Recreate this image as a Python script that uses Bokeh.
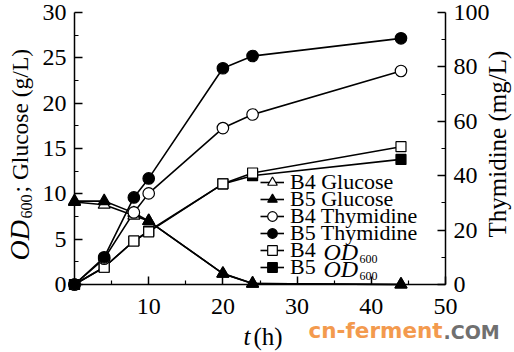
import math
from bokeh.plotting import figure
from bokeh.models import Range1d, LinearAxis, FixedTicker, Legend, LegendItem, Label
from bokeh.embed import file_html
from bokeh.resources import INLINE

# ---------------- data ----------------
time_h = [0, 4, 8, 10, 20, 24, 44]
b4_glucose = [9.1, 8.8, 7.6, 7.0, 1.2, 0.1, 0.0]
b5_glucose = [9.2, 9.2, 7.9, 7.0, 1.2, 0.1, 0.0]
b4_thymidine = [0.0, 9.5, 26.5, 33.5, 57.5, 62.5, 78.5]
b5_thymidine = [0.0, 10.0, 32.0, 39.0, 79.5, 84.0, 90.5]
b4_od600 = [0.0, 1.9, 4.8, 5.8, 11.1, 12.3, 15.2]
b5_od600 = [0.0, 1.9, 4.8, 5.9, 11.1, 12.0, 13.8]

left_ticks = [0, 5, 10, 15, 20, 25, 30]
left_minor = [2.5, 7.5, 12.5, 17.5, 22.5, 27.5]
bottom_ticks = [10, 20, 30, 40, 50]
bottom_minor = [5, 15, 25, 35, 45]
right_ticks = [0, 20, 40, 60, 80, 100]
right_minor = [10, 30, 50, 70, 90]

legend_labels = ["B4 Glucose", "B5 Glucose", "B4 Thymidine", "B5 Thymidine", "B4", "B5"]

SERIF = "Liberation Serif"

# canvas geometry (pixels): plot area edges
W, H = 514, 352
FL, FR, FT, FB = 74, 445, 12, 284
X0, X1 = 0, 50
Y0, Y1 = 0, 30
R0, R1 = 0, 100
xs = (FR - FL) / (X1 - X0)
ys = (FB - FT) / (Y1 - Y0)
rs = (FB - FT) / (R1 - R0)

p = figure(width=W, height=H, output_backend="svg", toolbar_location=None,
           x_range=Range1d(X0 - FL / xs, X1 + (W - FR) / xs),
           y_range=Range1d(Y0 - (H - FB) / ys, Y1 + FT / ys),
           min_border=0, min_border_left=0, min_border_right=0,
           min_border_top=0, min_border_bottom=0)
p.extra_y_ranges = {"thy": Range1d(R0 - (H - FB) / rs, R1 + FT / rs)}
p.outline_line_color = None
p.background_fill_color = "white"
p.border_fill_color = "white"
p.xgrid.visible = False
p.ygrid.visible = False

xa = p.xaxis[0]
ya = p.yaxis[0]
xa.ticker = FixedTicker(ticks=bottom_ticks, minor_ticks=bottom_minor)
ya.ticker = FixedTicker(ticks=left_ticks, minor_ticks=left_minor)
xa.fixed_location = Y0
xa.bounds = (X0, X1)
ya.fixed_location = X0
ya.bounds = (Y0, Y1)
right = LinearAxis(y_range_name="thy", ticker=FixedTicker(ticks=right_ticks, minor_ticks=right_minor),
                   fixed_location=X1, bounds=(R0, R1))
p.add_layout(right, "right")

for ax in [xa, ya, right]:
    ax.axis_line_width = 1.5
    ax.axis_line_color = "black"
    ax.major_tick_in = 8
    ax.major_tick_out = 0
    ax.minor_tick_in = 4
    ax.minor_tick_out = 0
    ax.major_tick_line_width = 1.5
    ax.minor_tick_line_width = 1.2
    ax.major_tick_line_color = "black"
    ax.minor_tick_line_color = "black"
    ax.major_label_text_font = SERIF
    ax.major_label_text_font_size = "24px"
    ax.major_label_text_color = "black"
    ax.major_label_standoff = 8
xa.major_label_standoff = 14

LW = 1.6
MW = 1.2
lines = {}
marks = {}
specs = [
    ("b4g", b4_glucose, "triangle", 12, "white", "default"),
    ("b5g", b5_glucose, "triangle", 12, "black", "default"),
    ("b5o", b5_od600, "square", 10, "black", "default"),
    ("b4o", b4_od600, "square", 10, "white", "default"),
    ("b4t", b4_thymidine, "circle", 11.5, "white", "thy"),
    ("b5t", b5_thymidine, "circle", 11.5, "black", "thy"),
]
for key, yv, mk, sz, fill, rng in specs:
    lines[key] = p.line(time_h, yv, line_color="black", line_width=LW, y_range_name=rng)
for key, yv, mk, sz, fill, rng in specs:
    marks[key] = p.scatter(time_h, yv, marker=mk, size=sz, fill_color=fill,
                           line_color="black", line_width=MW, y_range_name=rng)


def clabel(**kw):
    kw.setdefault("text_color", "black")
    kw.setdefault("text_font", SERIF)
    kw.setdefault("text_baseline", "middle")
    lab = Label(x_units="canvas", y_units="canvas", **kw)
    p.add_layout(lab)
    return lab


order = ["b4g", "b5g", "b4t", "b5t", "b4o", "b5o"]
row0 = 183
row_h = 17
for i, key in enumerate(order):
    rc = row0 + row_h * i
    item = LegendItem(label=legend_labels[i], renderers=[lines[key], marks[key]])
    leg = Legend(items=[item], location=(260, H - (rc + 12)),
                 padding=0, margin=0, spacing=0, border_line_color=None,
                 background_fill_alpha=0, glyph_width=24, glyph_height=24,
                 label_height=17, label_standoff=6,
                 label_text_font=SERIF, label_text_font_size="22px",
                 label_text_color="black")
    p.add_layout(leg)
    if i >= 4:
        clabel(x=323, y=rc, text="OD", text_font_style="italic", text_font_size="24px")
        clabel(x=359, y=rc + 7, text="600", text_font_size="12px")

# left axis title (reads bottom to top)
clabel(x=19, y=260, text="OD", angle=math.pi / 2, text_font_style="italic",
       text_font_size="28px")
clabel(x=26, y=218, text="600", angle=math.pi / 2, text_font_size="16px")
clabel(x=19, y=192, text="; Glucose (g/L)", angle=math.pi / 2, text_font_size="23.5px")
# right axis title
clabel(x=497, y=237, text="Thymidine (mg/L)", angle=math.pi / 2, text_font_size="25px")
# bottom axis title
clabel(x=243, y=336, text="t", text_font_style="italic", text_font_size="25px")
clabel(x=253, y=336, text="(h)", text_font_size="25px")
# watermark
clabel(x=308, y=330, text="cn-ferment", text_font="DejaVu Sans", text_font_style="bold",
       text_font_size="21.5px", text_color="#F39A4E")
clabel(x=443, y=331, text=".COM", text_font="DejaVu Sans", text_font_style="bold",
       text_font_size="19px", text_color="#707070")

open("out.html", "w").write(file_html(p, INLINE))
